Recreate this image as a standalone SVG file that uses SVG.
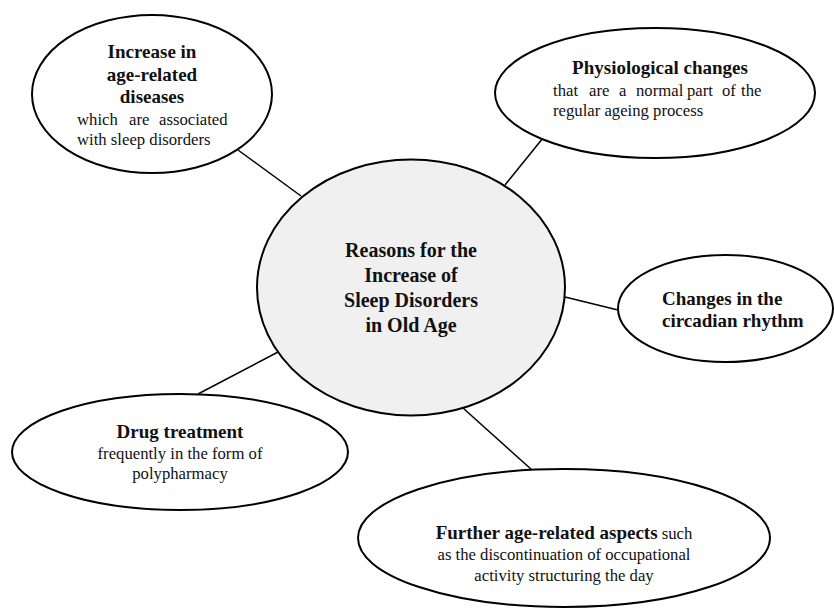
<svg xmlns="http://www.w3.org/2000/svg" width="834" height="609" viewBox="0 0 834 609">
<style>
.node{fill:#fff;stroke:#000;stroke-width:2}
.hub{fill:#f0f0f0;stroke:#000;stroke-width:2}
.edge{stroke:#000;stroke-width:1.5;fill:none}
text{font-family:"Liberation Serif","Times New Roman",serif;fill:#111}
.b{font-weight:bold;font-size:19px}
.r{font-size:16.7px}
.hb{font-weight:bold;font-size:20px}
.c{text-anchor:middle}
</style>
<rect width="834" height="609" fill="#fff"/>
<g id="connectors">
<line class="edge" x1="238" y1="150" x2="301" y2="196"/>
<line class="edge" x1="543" y1="138" x2="505" y2="185"/>
<line class="edge" x1="565" y1="297" x2="618" y2="310"/>
<line class="edge" x1="278" y1="352" x2="198" y2="394"/>
<line class="edge" x1="463" y1="408" x2="532" y2="470"/>
</g>
<g id="hub">
<ellipse class="hub" cx="411" cy="287.5" rx="154" ry="128"/>
<text class="hb c" x="411" y="257">Reasons for the</text>
<text class="hb c" x="411" y="282">Increase of</text>
<text class="hb c" x="411" y="307">Sleep Disorders</text>
<text class="hb c" x="411" y="332">in Old Age</text>
</g>
<g id="age-diseases">
<ellipse class="node" cx="152" cy="94" rx="120" ry="79"/>
<text class="b c" x="152" y="58">Increase in</text>
<text class="b c" x="152" y="81">age-related</text>
<text class="b c" x="152" y="103">diseases</text>
<text class="r" y="125"><tspan x="77">which</tspan><tspan x="129">are</tspan><tspan x="159">associated</tspan></text>
<text class="r" x="77" y="145">with sleep disorders</text>
</g>
<g id="physiological">
<ellipse class="node" cx="655" cy="93" rx="160" ry="65"/>
<text class="b c" x="660" y="74">Physiological changes</text>
<text class="r" y="96"><tspan x="553">that</tspan><tspan x="589">are</tspan><tspan x="619">a</tspan><tspan x="636">normal</tspan><tspan x="687">part</tspan><tspan x="722">of</tspan><tspan x="741">the</tspan></text>
<text class="r" x="553" y="116">regular ageing process</text>
</g>
<g id="circadian">
<ellipse class="node" cx="725.5" cy="308.5" rx="107.5" ry="53.5"/>
<text class="b" x="662" y="305">Changes in the</text>
<text class="b" x="662" y="327">circadian rhythm</text>
</g>
<g id="drug">
<ellipse class="node" cx="180" cy="452" rx="168" ry="58"/>
<text class="b c" x="180" y="438">Drug treatment</text>
<text class="r c" x="180" y="459">frequently in the form of</text>
<text class="r c" x="180" y="479">polypharmacy</text>
</g>
<g id="further">
<ellipse class="node" cx="564" cy="538" rx="206" ry="69"/>
<text class="c" x="564" y="539"><tspan class="b">Further age-related aspects</tspan><tspan class="r"> such</tspan></text>
<text class="r c" x="564" y="560">as the discontinuation of occupational</text>
<text class="r c" x="564" y="581">activity structuring the day</text>
</g>
</svg>
